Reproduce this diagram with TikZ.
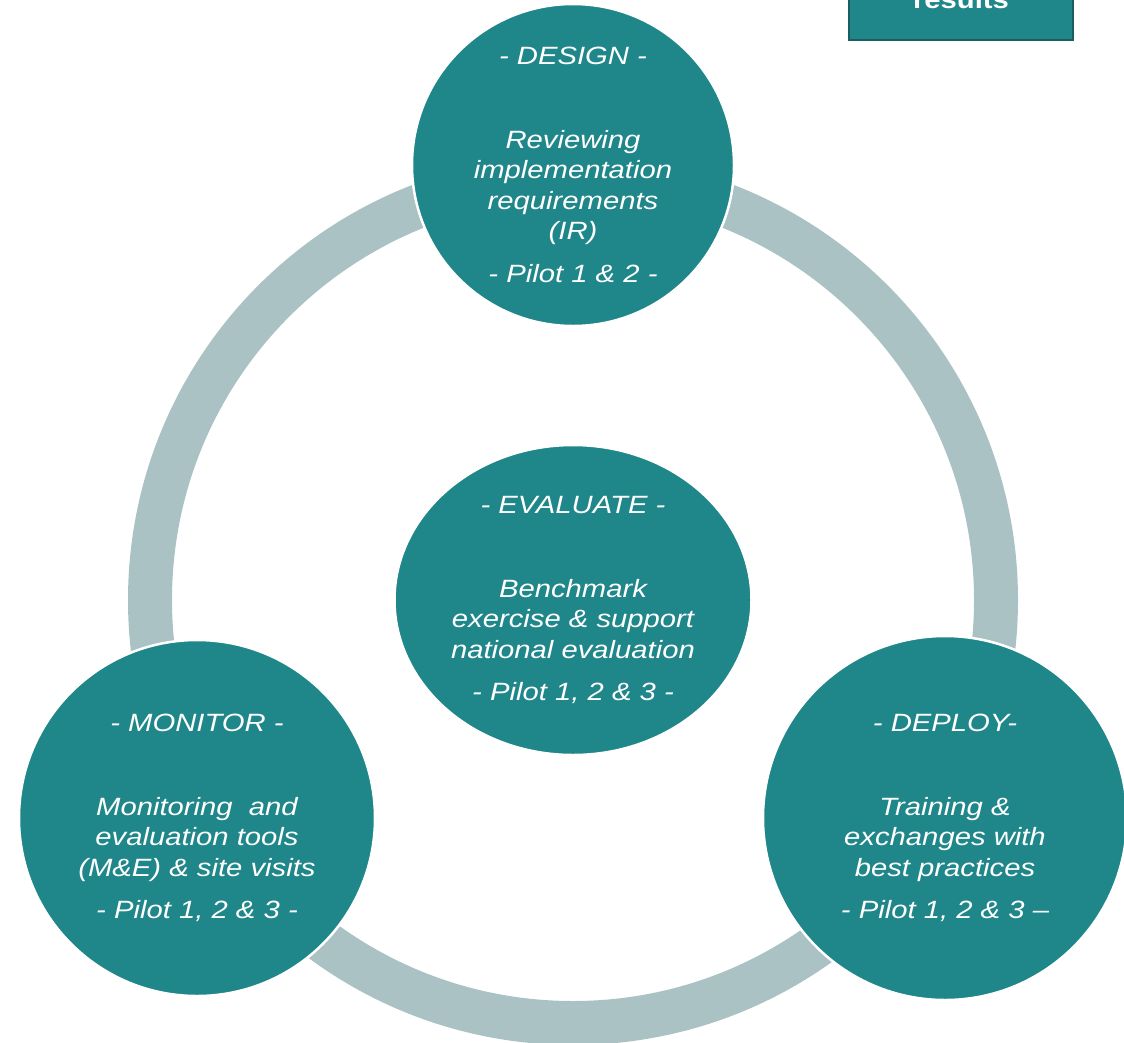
\documentclass[tikz,border=0pt]{standalone}
\usepackage{fontspec}
\setmainfont{Liberation Sans}[FakeStretch=1.17]
\usetikzlibrary{shapes.geometric}
\definecolor{stageteal}{HTML}{1F8689}
\definecolor{ringgrey}{HTML}{AAC2C3}
\definecolor{boxedge}{HTML}{1B5E61}

\begin{document}
\begin{tikzpicture}[x=1pt,y=-1pt,
  stage/.style={circle, fill=stageteal, draw=white, line width=2.5pt, text=white,
    align=center, inner sep=0pt, font=\fontsize{25}{30.5}\selectfont\itshape},
  resultbox/.style={rectangle, fill=stageteal, draw=boxedge, line width=2.5pt}]
 \useasboundingbox (0,0) rectangle (1124,1042);
 \clip (0,0) rectangle (1124,1042);

 \coordinate (hub) at (573,600);
 \draw [ringgrey, line width=44pt] (hub) circle [radius=423pt];

 \node (design) [stage, minimum size=322pt] at (573,165)
   {- DESIGN -\\[53pt]Reviewing\\implementation\\requirements\\(IR)\\[12pt]- Pilot 1 \& 2 -};
 \node (evaluate) [stage, ellipse, minimum width=357pt, minimum height=310pt] at (573,600)
   {- EVALUATE -\\[53pt]Benchmark\\exercise \& support\\national evaluation\\[12pt]- Pilot 1, 2 \& 3 -};
 \node (monitor) [stage, minimum size=356pt] at (197,818)
   {- MONITOR -\\[53pt]Monitoring\ \ and\\evaluation tools\\(M\&E) \& site visits\\[12pt]- Pilot 1, 2 \& 3 -};
 \node (deploy) [stage, minimum size=364pt] at (945,818)
   {- DEPLOY-\\[53pt]Training \&\\exchanges with\\best practices\\[12pt]- Pilot 1, 2 \& 3 –};

 \node (results) [resultbox, minimum width=224pt, minimum height=80pt, anchor=south] at (961,41) {};
 \node (resultslabel) [text=white, font=\fontsize{25}{30}\selectfont\bfseries, anchor=base] at (961,8) {results};
\end{tikzpicture}
\end{document}
